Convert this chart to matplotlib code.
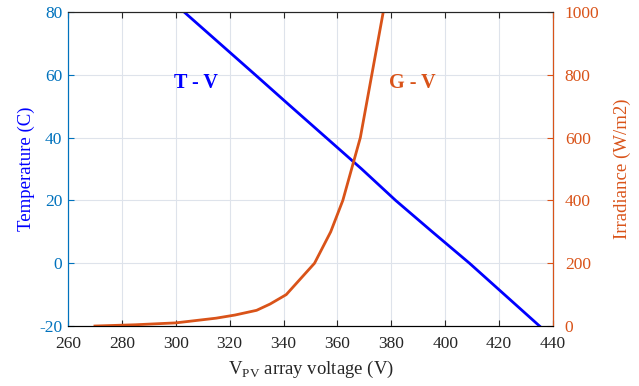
import matplotlib
matplotlib.use('Agg')
import matplotlib.pyplot as plt
import numpy as np

plt.rcParams['font.family'] = ['Liberation Serif', 'DejaVu Serif']
plt.rcParams['mathtext.fontset'] = 'custom'
plt.rcParams['mathtext.rm'] = 'Liberation Serif'
plt.rcParams['axes.unicode_minus'] = False

# temperature vs voltage
t_volt = [303.1, 316.3, 329.5, 342.6, 355.8, 369.0, 381.6, 395.2, 409.0, 422.0, 435.0]
t_vals = [80, 70, 60, 50, 40, 30, 20, 10, 0, -10, -20]

# irradiance vs voltage
g_volt = [270, 285, 300, 315, 322, 330, 335, 341, 351.5, 357.5, 362, 368.5, 377]
g_vals = [0, 4, 10, 25, 35, 50, 70, 100, 200, 300, 400, 600, 1000]

blue_ax = (0, 0.447, 0.741)
orange = (0.85, 0.325, 0.098)

fig = plt.figure(figsize=(6.39, 3.86), dpi=100)
ax = fig.add_axes([0.1064, 0.1554, 0.759, 0.8135])
ax2 = ax.twinx()

ax.plot(t_volt, t_vals, color=(0, 0, 1), lw=2)
ax2.plot(g_volt, g_vals, color=orange, lw=2)

ax.set_xlim(260, 440)
ax.set_ylim(-20, 80)
ax2.set_ylim(0, 1000)
ax.set_xticks(np.arange(260, 441, 20))
ax.set_yticks(np.arange(-20, 81, 20))
ax2.set_yticks(np.arange(0, 1001, 200))

ax.grid(True, color=(0.87, 0.89, 0.92), lw=0.8)
ax.set_axisbelow(True)

fs = 12.5
ax.tick_params(axis='x', direction='in', top=True, labelsize=fs, colors='#262626', length=4, pad=7.5)
ax.tick_params(axis='y', direction='in', labelsize=fs, colors=blue_ax, length=4, pad=4)
ax2.tick_params(axis='y', direction='in', labelsize=fs, colors=orange, length=4, pad=8.5)

for s in ['top', 'bottom']:
    ax.spines[s].set_color('#262626')
ax.spines['left'].set_color(blue_ax)
ax2.spines['left'].set_color(blue_ax)
ax2.spines['right'].set_color(orange)
ax2.spines['top'].set_color('#262626')

ax.set_xlabel(r'V$_{\mathrm{PV}}$ array voltage (V)', fontsize=13.5, color='#262626', labelpad=4.5)
ax.set_ylabel('Temperature (C)', fontsize=13.5, color=(0, 0, 1), labelpad=3)
ax2.set_ylabel('Irradiance (W/m2)', fontsize=13.5, color=orange, labelpad=10)

ax.text(299.5, 57.4, 'T - V', color=(0, 0, 1), fontsize=14.5, fontweight='bold', va='center')
ax.text(379, 57.4, 'G - V', color=orange, fontsize=14.5, fontweight='bold', va='center')

fig.savefig('out.png', dpi=100)
